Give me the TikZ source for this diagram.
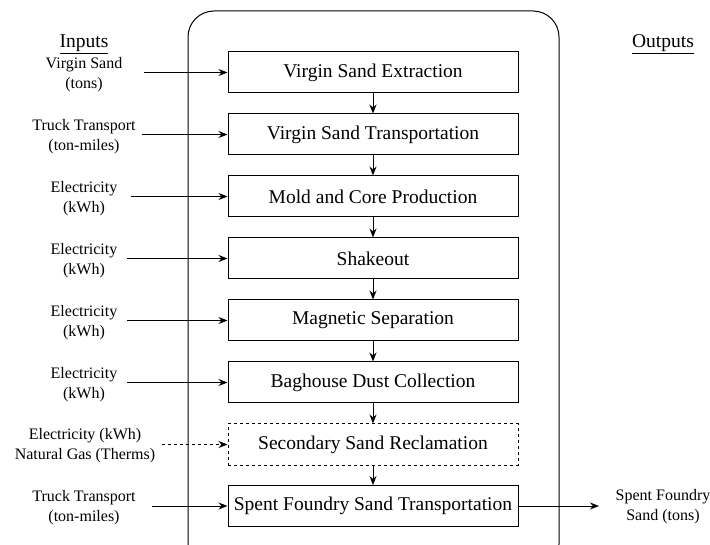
\documentclass[tikz,border=0pt]{standalone}
\usepackage{fontspec}
\setmainfont{Liberation Serif}
\usetikzlibrary{arrows.meta}
\tikzset{
  procbox/.style={draw, line width=1pt, minimum width=290pt, minimum height=41pt, inner sep=0pt, font=\fontsize{19.5}{22}\selectfont},
  lbl/.style={align=center, inner sep=0pt, font=\fontsize{16}{20}\selectfont},
  head/.style={inner sep=0pt, font=\fontsize{19.5}{22}\selectfont},
  arr/.style={line width=1pt, -{Stealth[length=9pt,width=7pt]}},
}
\begin{document}
\begin{tikzpicture}[x=1pt,y=-1pt]
\useasboundingbox (0,0) rectangle (710,545);
\begin{scope}
\clip (0,0) rectangle (710,545);
\draw[line width=1pt, rounded corners=26pt] (188,11) rectangle (559,570);
\end{scope}
\node[head] (hin) at (84,44) {\underline{Inputs}};
\node[head] (hout) at (663,44) {\underline{Outputs}};

\node[procbox] (b1) at (373,72.5) {Virgin Sand Extraction};
\node[procbox] (b2) at (373,134.5) {Virgin Sand Transportation};
\node[procbox] (b3) at (373,196.5) {Mold and Core Production};
\node[procbox] (b4) at (373,258.5) {Shakeout};
\node[procbox] (b5) at (373,320.5) {Magnetic Separation};
\node[procbox] (b6) at (373,382.5) {Baghouse Dust Collection};
\node[procbox, dash pattern=on 3pt off 3pt] (b7) at (373,444.5) {Secondary Sand Reclamation};
\node[procbox] (b8) at (373,506) {Spent Foundry Sand Transportation};

\foreach \a/\b in {b1/b2,b2/b3,b3/b4,b4/b5,b5/b6,b6/b7,b7/b8}
  \draw[arr] (\a.south) -- (\b.north);

\node[lbl] (i1) at (84,75) {Virgin Sand\\(tons)};
\node[lbl] (i2) at (84,137) {Truck Transport\\(ton-miles)};
\node[lbl] (i3) at (84,199) {Electricity\\(kWh)};
\node[lbl] (i4) at (84,261) {Electricity\\(kWh)};
\node[lbl] (i5) at (84,323) {Electricity\\(kWh)};
\node[lbl] (i6) at (84,385) {Electricity\\(kWh)};
\node[lbl] (i7) at (85,446) {Electricity (kWh)\\Natural Gas (Therms)};
\node[lbl] (i8) at (84,508) {Truck Transport\\(ton-miles)};
\node[lbl] (o1) at (663,507) {Spent Foundry\\Sand (tons)};

\coordinate (s1) at (144,72.5);
\coordinate (s2) at (142,134.5);
\coordinate (s3) at (131,196.5);
\coordinate (s4) at (127,258.5);
\coordinate (s5) at (127,320.5);
\coordinate (s6) at (127,382.5);
\coordinate (s7) at (162,444.5);
\coordinate (s8) at (152,506);
\coordinate (e8) at (599,506);

\foreach \i in {1,2,3,4,5,6,8}
  \draw[arr] (s\i) -- (b\i.west);
\draw[arr, dash pattern=on 3pt off 3pt] (s7) -- (b7.west);
\draw[arr] (b8.east) -- (e8);
\end{tikzpicture}
\end{document}
